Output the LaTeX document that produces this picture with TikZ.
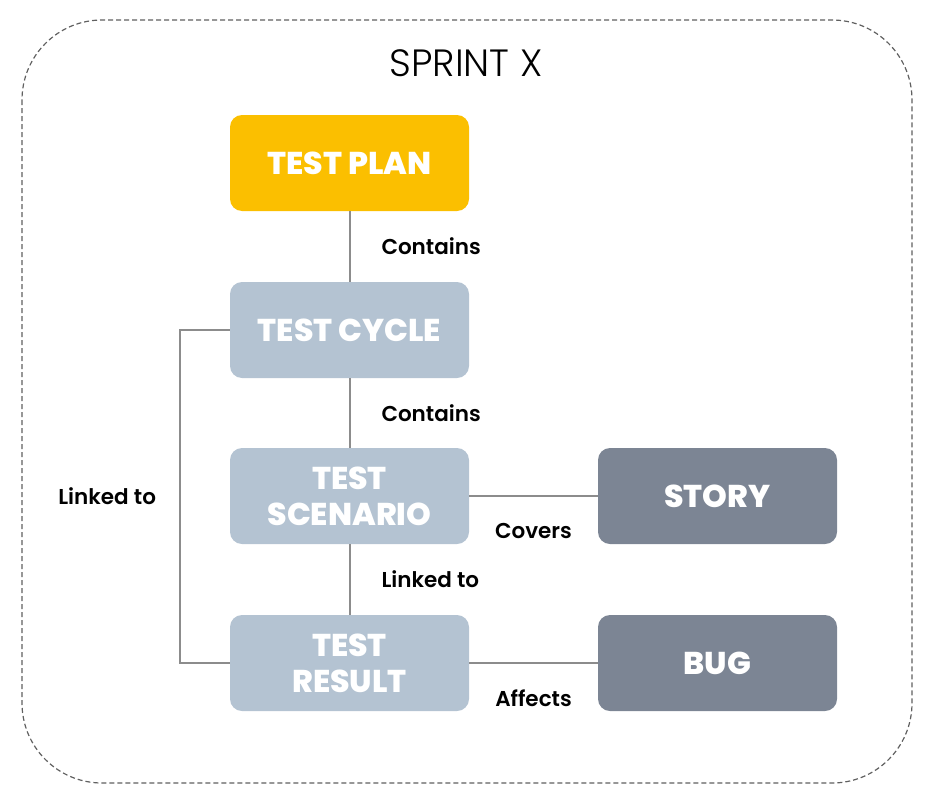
\documentclass[tikz,border=0pt]{standalone}
\usepackage{fontspec}
\setmainfont{Poppins}[BoldFont=Poppins ExtraBold]
\newfontfamily\labfont{Poppins SemiBold}
\newfontfamily\titlefont{Poppins Light}
\usetikzlibrary{positioning}
\definecolor{planY}{HTML}{FBBF00}
\definecolor{lightB}{HTML}{B4C3D2}
\definecolor{darkB}{HTML}{7C8594}
\definecolor{lineG}{HTML}{8C8C8C}
\definecolor{dashG}{HTML}{606060}
\tikzset{
  box/.style={rounded corners=12pt, minimum width=239pt, minimum height=96pt,
    text=white, font=\fontsize{31.5}{36}\selectfont\bfseries, align=center, inner sep=0pt},
  conn/.style={draw=lineG, line width=2pt},
  lbl/.style={font=\fontsize{21.5}{24}\selectfont\labfont, text=black, inner sep=0pt},
}
\begin{document}
\begin{tikzpicture}[x=1pt,y=-1pt]
\useasboundingbox (0,0) rectangle (937,803);
\draw[dashG, line width=1.2pt, dash pattern=on 5pt off 3pt, rounded corners=80pt] (22,20) rectangle (912,783);
\node[font=\fontsize{38}{44}\selectfont\titlefont, text=black] (title) at (466,63) {SPRINT X};
\node[box, fill=planY] (plan) at (349.5,163) {TEST PLAN};
\node[box, fill=lightB] (cycle) at (349.5,330) {TEST CYCLE};
\node[box, fill=lightB] (scen) at (349.5,496) {TEST\\SCENARIO};
\node[box, fill=lightB] (res) at (349.5,663) {TEST\\RESULT};
\node[box, fill=darkB] (story) at (717.5,496) {STORY};
\node[box, fill=darkB] (bug) at (717.5,663) {BUG};
\draw[conn] (plan) -- node[lbl, midway, right=31pt] {Contains} (cycle);
\draw[conn] (cycle) -- node[lbl, midway, right=31pt] {Contains} (scen);
\draw[conn] (scen) -- node[lbl, midway, right=31pt] {Linked to} (res);
\draw[conn] (scen) -- node[lbl, midway, below=26pt] {Covers} (story);
\draw[conn] (res) -- node[lbl, midway, below=26pt] {Affects} (bug);
\coordinate (lc) at (180,330);
\coordinate (lr) at (180,663);
\draw[conn] (cycle.west) -- (lc) -- node[lbl, midway, left=23pt] {Linked to} (lr) -- (res.west);
\end{tikzpicture}
\end{document}
